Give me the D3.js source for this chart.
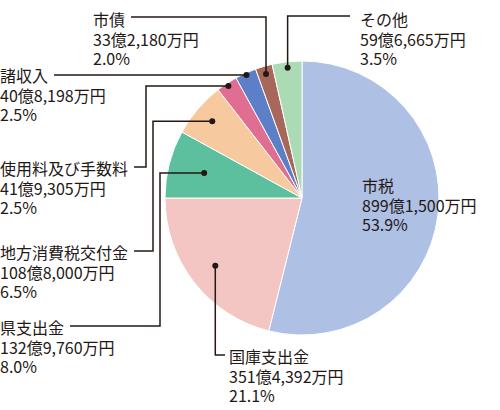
<!DOCTYPE html>
<html>
<head>
<meta charset="utf-8">
<script src="https://cdn.jsdelivr.net/npm/d3@7"></script>
<style>
  body { margin: 0; background: #fff; }
  svg text { font-family: "Noto Sans CJK JP", "Noto Sans", sans-serif; fill: #231815; }
</style>
</head>
<body>
<div id="chart"></div>
<script>
// 歳入の内訳 (clockwise from 12 o'clock)
var categories = ["市税", "国庫支出金", "県支出金", "地方消費税交付金", "使用料及び手数料", "諸収入", "市債", "その他"];
var amounts = ["899億1,500万円", "351億4,392万円", "132億9,760万円", "108億8,000万円", "41億9,305万円", "40億8,198万円", "33億2,180万円", "59億6,665万円"];
var shares = [53.9, 21.1, 8.0, 6.5, 2.5, 2.5, 2.0, 3.5];
var colors = ["#aec0e4", "#f3c5c3", "#5cbf9e", "#f7c99e", "#e06d92", "#5c7fc8", "#a7675b", "#aadbb5"];

var svgWidth = 500;
var svgHeight = 410;
var cx = 302, cy = 198, radius = 137;

// label layout (first line centre), leader elbows, dot radius
var labelX = [362, 229, 0, 0, 0, 0, 93, 360];
var labelY = [185, 356, 327, 252, 168, 75, 19, 19];
var lineY = [null, 355, 326, 251, 167, 75, 17, 16];
var elbowX = [null, null, 160, 153, 146, null, null, null];
var dotR = [null, 110, 101, 118, 134, 135, 129, 131];
var lineHeight = 19.5;

var svg = d3.select("#chart")
    .append("svg")
    .attr("width", svgWidth)
    .attr("height", svgHeight);

var data = categories.map((c, i) => ({ name: c, amount: amounts[i], share: shares[i], color: colors[i], i: i }));

var pie = d3.pie()
    .sort(null)
    .value(d => d.share);

var arc = d3.arc()
    .innerRadius(0)
    .outerRadius(radius);

var pieGroup = svg.append("g")
    .attr("transform", `translate(${cx}, ${cy})`);

var arcs = pie(data);

pieGroup.selectAll("path")
    .data(arcs)
    .enter()
    .append("path")
    .attr("d", arc)
    .attr("fill", d => d.data.color)
    .attr("stroke", "#fff")
    .attr("stroke-width", 1);

// labels: one text per slice, three tspans
var labels = svg.append("g");

arcs.forEach(d => {
    var i = d.data.i;
    var lines = [d.data.name, d.data.amount, d.data.share.toFixed(1) + "%"];
    var label = labels.append("text")
        .attr("font-size", 16)
        .attr("dominant-baseline", "central");

    var spans = lines.map((t, k) => label.append("tspan")
        .attr("x", labelX[i])
        .attr("y", labelY[i] + k * lineHeight)
        .text(t));

    if (dotR[i] == null) return;

    var mid = (d.startAngle + d.endAngle) / 2;
    var dx = cx + Math.sin(mid) * dotR[i];
    var dy = cy - Math.cos(mid) * dotR[i];

    var titleLen = spans[0].node().getComputedTextLength();
    var endX;
    if (labelX[i] > dx) endX = labelX[i] - (i == 1 ? 4 : 10);
    else endX = labelX[i] + titleLen + 6;

    var ex = elbowX[i] == null ? dx : elbowX[i];
    var pts = [[dx, dy], [ex, dy], [ex, lineY[i]], [endX, lineY[i]]];

    svg.append("path")
        .attr("d", d3.line()(pts))
        .attr("fill", "none")
        .attr("stroke", "#231815")
        .attr("stroke-width", 1.5);

    svg.append("circle")
        .attr("cx", dx)
        .attr("cy", dy)
        .attr("r", 3)
        .attr("fill", "#231815");
});
</script>
</body>
</html>
